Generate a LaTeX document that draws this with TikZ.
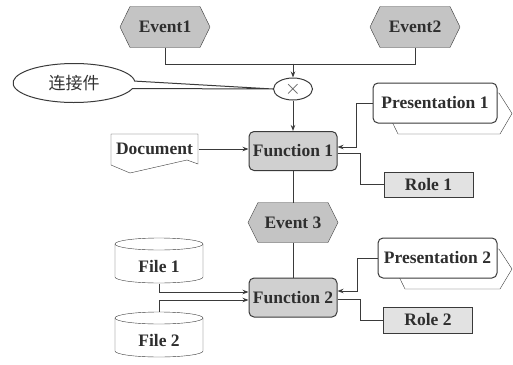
\documentclass[tikz,border=0pt]{standalone}
\usepackage{fontspec}
\setmainfont{Liberation Serif}
\newfontfamily\cjk{Noto Sans CJK SC}
\usetikzlibrary{shapes.geometric,shapes.callouts,arrows.meta,backgrounds,calc}
\definecolor{ln}{HTML}{3A3A3A}
\definecolor{evfill}{HTML}{C4C4C4}
\definecolor{fnfill}{HTML}{D0D0D0}
\definecolor{rlfill}{HTML}{E2E2E2}
\newcommand\hexa[1]{\draw[ln, fill=evfill] (#1.west) -- ([xshift=10pt]#1.north west) -- ([xshift=-10pt]#1.north east) -- (#1.east) -- ([xshift=-10pt]#1.south east) -- ([xshift=10pt]#1.south west) -- cycle;}
\begin{document}
\begin{tikzpicture}[x=1pt,y=-1pt, line width=1pt,
  lbl/.style={font=\fontsize{17.5}{20}\selectfont\bfseries, text=black!82, inner sep=0pt},
  hexnode/.style={lbl, minimum width=89pt, minimum height=40pt},
  fun/.style={lbl, draw=ln, rounded corners=5pt, fill=fnfill, minimum width=88pt, minimum height=39pt},
  role/.style={lbl, draw=ln, fill=rlfill, minimum width=89pt, minimum height=25pt},
  pres/.style={lbl, draw=ln, fill=white, rounded corners=5pt, minimum height=40pt},
  con/.style={draw=ln},
  arr/.style={draw=ln, -{Stealth[length=6pt,width=4.5pt]}}]
\useasboundingbox (0,0) rectangle (513,364);
% nodes
\node[hexnode] (e1) at (165,27) {Event1};
\node[hexnode] (e2) at (415,27) {Event2};
\node[draw=ln, ellipse, minimum width=39pt, minimum height=22pt, inner sep=0pt, font=\fontsize{22}{22}\selectfont, text=black!65] (xo) at (293,89) {$\times$};
\node[ellipse callout, draw=ln, minimum width=122pt, minimum height=39pt, inner sep=0pt,
  callout absolute pointer={(xo.west)}, callout pointer arc=22,
  font=\cjk\fontsize{17}{20}\selectfont, text=black!80] (cl) at (74,83) {连接件};
\node[fun] (f1) at (293,151) {Function 1};
\node[lbl, minimum width=87pt, minimum height=31pt] (doc) at (154.5,149) {Document};
\node[hexnode, minimum height=39pt] (e3) at (293,222.5) {Event 3};
\node[fun] (f2) at (293,297.5) {Function 2};
\node[lbl, minimum width=88pt, minimum height=45pt] (fl1) at (159,260.5) {\raisebox{-12pt}[0pt][0pt]{File 1}};
\node[lbl, minimum width=88pt, minimum height=45pt] (fl2) at (159,334.5) {\raisebox{-11.5pt}[0pt][0pt]{File 2}};
\node[pres, minimum width=124pt] (p1) at (435,103) {Presentation 1};
\node[pres, minimum width=119pt] (p2) at (437.5,258) {Presentation 2};
\node[role] (r1) at (428.5,184.5) {Role 1};
\node[role, minimum height=26pt] (r2) at (428,320) {Role 2};
% shapes behind
\begin{scope}[on background layer]
\hexa{e1}
\hexa{e2}
\hexa{e3}
\draw[ln, fill=white] (111,134) -- (198,134) -- (198,164) -- (187,160) -- (130,173) -- (111,165) -- cycle;
\draw[ln, fill=white] (115,244) -- (115,277) arc[start angle=180, end angle=360, x radius=44pt, y radius=6pt] -- (203,244) arc[start angle=0, end angle=180, x radius=44pt, y radius=6pt] -- cycle;
\draw[ln] (203,244) arc[start angle=0, end angle=-180, x radius=44pt, y radius=6pt];
\draw[ln, fill=white] (115,318) -- (115,351) arc[start angle=180, end angle=360, x radius=44pt, y radius=6pt] -- (203,318) arc[start angle=0, end angle=180, x radius=44pt, y radius=6pt] -- cycle;
\draw[ln] (203,318) arc[start angle=0, end angle=-180, x radius=44pt, y radius=6pt];
\draw[ln, fill=white] (398,134) -- (388,113.5) -- (398,93) -- (499,93) -- (512,113.5) -- (500,134) -- cycle;
\draw[ln, fill=white] (405,289) -- (395,268.5) -- (405,249) -- (499,249) -- (512,269) -- (500,289) -- cycle;
\end{scope}
% connectors
\draw[con] (e1.south) -- ++(0,17) -| (e2.south);
\draw[arr] (xo.north) ++(0,-14) -- (xo.north);
\draw[arr] (xo.south) -- (f1.north);
\draw[arr] (doc.east) -- (doc.east -| f1.west);
\draw[con] (f1.south) -- (e3.north);
\draw[con] (e3.south) -- (f2.north);
\draw[arr] (p1.west) -- ++(-16,0) |- ([yshift=4pt]f1.east);
\draw[con] ([yshift=-2pt]f1.east) -- ++(23,0) |- (r1.west);
\draw[arr] (p2.west) -- ++(-20,0) |- ([yshift=6.5pt]f2.east);
\draw[con] ([yshift=-1.5pt]f2.east) -- ++(23,0) |- (r2.west);
\draw[arr] (fl1.south) |- ([yshift=5.5pt]f2.west);
\draw[arr] (fl2.north) |- ([yshift=-2.5pt]f2.west);
\end{tikzpicture}
\end{document}
